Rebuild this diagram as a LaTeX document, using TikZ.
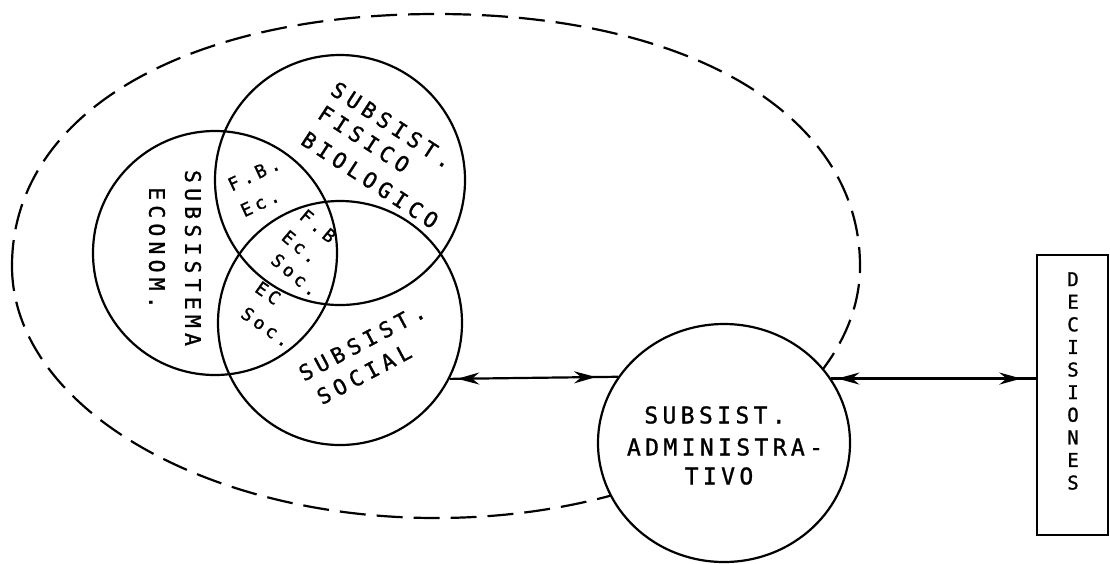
\documentclass[tikz,border=0pt]{standalone}
\usepackage{fontspec}
\usetikzlibrary{arrows.meta,decorations.markings,shapes.geometric}
\newfontfamily\lbl[LetterSpace=24,FakeBold=1.2]{DejaVu Sans Mono}
\newfontfamily\lblsmall[LetterSpace=22,FakeBold=1.2]{DejaVu Sans Mono}
\newfontfamily\lbladm[LetterSpace=19,FakeBold=1.2]{DejaVu Sans Mono}
\newfontfamily\lblbox[FakeBold=1.2]{DejaVu Sans Mono}

\tikzset{
  venn/.style={circle,draw,line width=2.2pt,inner sep=0pt},
  lab/.style={font=\lbl\fontsize{21.5}{24}\selectfont,inner sep=0pt},
  minilab/.style={font=\lblsmall\fontsize{18}{20}\selectfont,inner sep=0pt},
  admlab/.style={font=\lbladm\fontsize{23}{26}\selectfont,inner sep=0pt},
  boundary/.style={line width=2.2pt,dash pattern=on 26pt off 11pt},
  link/.style={line width=2.2pt},
  twoway/.style 2 args={link,postaction={decorate},
    decoration={markings,
      mark=at position #1 with {\arrowreversed{Stealth[length=22pt,width=12pt]}},
      mark=at position #2 with {\arrow{Stealth[length=22pt,width=12pt]}}}},
}

\begin{document}
\begin{tikzpicture}[x=1pt,y=-1pt]
\useasboundingbox (0,0) rectangle (1110,563);
\fill[white] (0,0) rectangle (1110,563);

% outer system boundary (fuller in its upper half)
\draw[boundary] (12,266) .. controls (12,115) and (182,14) .. (436,14)
  .. controls (690,14) and (860,115) .. (860,266)
  .. controls (860,405) and (670,518) .. (436,518)
  .. controls (202,518) and (12,405) .. cycle;

% the three overlapping subsystems
\node[venn,minimum size=244pt] (eco) at (215,253) {};
\node[venn,minimum size=250pt] (fis) at (340,180) {};
\node[venn,minimum size=244pt] (soc) at (340,323) {};

% administrative subsystem and decisions box
\node[ellipse,draw,fill=white,line width=2.2pt,inner sep=0pt,
      minimum width=252pt,minimum height=238pt] (adm) at (724,443) {};
\node[rectangle,draw,line width=2.6pt,inner sep=0pt,
      minimum width=71pt,minimum height=280pt] (dec) at (1072.5,395) {};

% physical-biological subsystem
\node[lab,rotate=-33] (fis1) at (392,125) {SUBSIST.};
\node[lab,rotate=-33] (fis2) at (364,139) {FISICO};
\node[lab,rotate=-33] (fis3) at (370,180) {BIOLOGICO};

% economic subsystem
\node[lab,rotate=-90] (eco1) at (193,258) {SUBSISTEMA};
\node[lab,rotate=-90] (eco2) at (157,248) {ECONOM.};

% social subsystem
\node[lab,rotate=28] (soc1) at (362,342) {SUBSIST.};
\node[lab,rotate=28] (soc2) at (364,374) {SOCIAL};

% intersections
\node[minilab,rotate=25] (fb1) at (254,174) {F.B.};
\node[minilab,rotate=25] (fb2) at (260,203) {Ec.};
\node[minilab,rotate=-40] (all1) at (318,226) {F.B};
\node[minilab,rotate=-40] (all2) at (300,247) {Ec.};
\node[minilab,rotate=-40] (all3) at (295,275) {Soc.};
\node[minilab,rotate=-35] (es1) at (268,293) {EC};
\node[minilab,rotate=-35] (es2) at (266,327) {Soc.};

% administrative subsystem text
\node[admlab] (adm1) at (715,415) {SUBSIST.};
\node[admlab] (adm2) at (725,447) {ADMINISTRA-};
\node[admlab] (adm3) at (719,476) {TIVO};

% decisions, one letter per line
\node[font=\lblbox\fontsize{19}{22.6}\selectfont,
      align=center,inner sep=0pt] (dec1) at (1073,381)
  {D\\E\\C\\I\\S\\I\\O\\N\\E\\S};

% two-way links
\draw[twoway={0.045}{0.87}] (soc.-27) -- (adm.148.4);
\draw[twoway={0.03}{0.93}] (adm.31.6) -- (adm.31.6 -| dec.west);
\end{tikzpicture}
\end{document}
